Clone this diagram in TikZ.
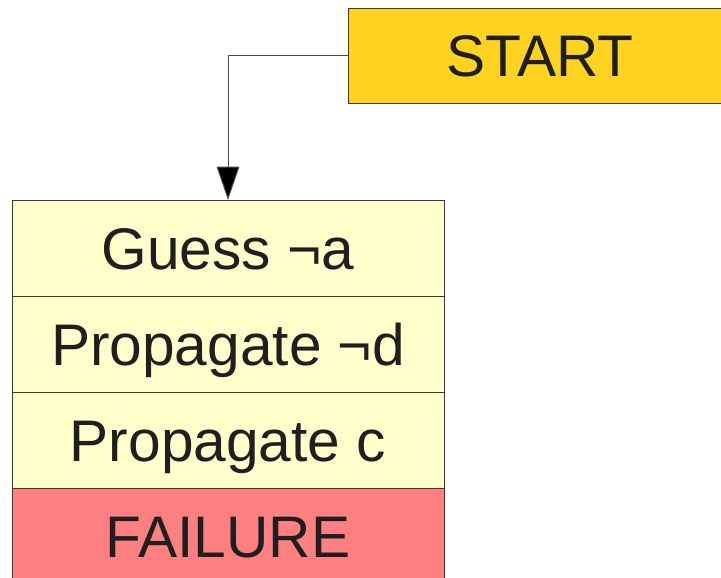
\documentclass[tikz,border=0pt]{standalone}
\usepackage{fontspec}
\setmainfont{Liberation Sans}
\usepackage{xcolor}
\usetikzlibrary{arrows.meta, positioning}
\definecolor{startfill}{HTML}{FFD320}
\definecolor{stepfill}{HTML}{FFFFCC}
\definecolor{failfill}{HTML}{FF8080}
\definecolor{edgegray}{HTML}{3A3A3A}
\tikzstyle{box} = [rectangle, inner sep=0pt, outer sep=0pt, text centered, text height=31.5pt, text depth=0pt, draw=edgegray, line width=0.75pt, text=black!88, font=\fontsize{44}{52}\selectfont]
\tikzstyle{stepbox} = [box, minimum width=324pt, minimum height=72pt, fill=stepfill]
\tikzstyle{arrow} = [draw=black!70, line width=0.75pt, -{Triangle[length=25pt, width=17pt, fill=black]}]

\begin{document}
\begin{tikzpicture}[x=0.75pt, y=-0.75pt]
            \useasboundingbox (0,0) rectangle (721,578);
            \clip (0,0) rectangle (721,578);
            % Start
            \node (start) [box, anchor=north west, minimum width=288pt, minimum height=71.25pt, fill=startfill] at (348,8) {START};
            
            % Trail
            \node (guess) [stepbox, anchor=north west] at (12,200) {Guess ¬a};
            \node (propd) [stepbox, below=0pt of guess] {Propagate ¬d};
            \node (propc) [stepbox, below=0pt of propd] {Propagate c};
            \node (failure) [stepbox, below=0pt of propc, fill=failfill] {FAILURE};
            
            % Arrows
            \draw [arrow] (start.west) -| (guess.north);
        \end{tikzpicture}
\end{document}
